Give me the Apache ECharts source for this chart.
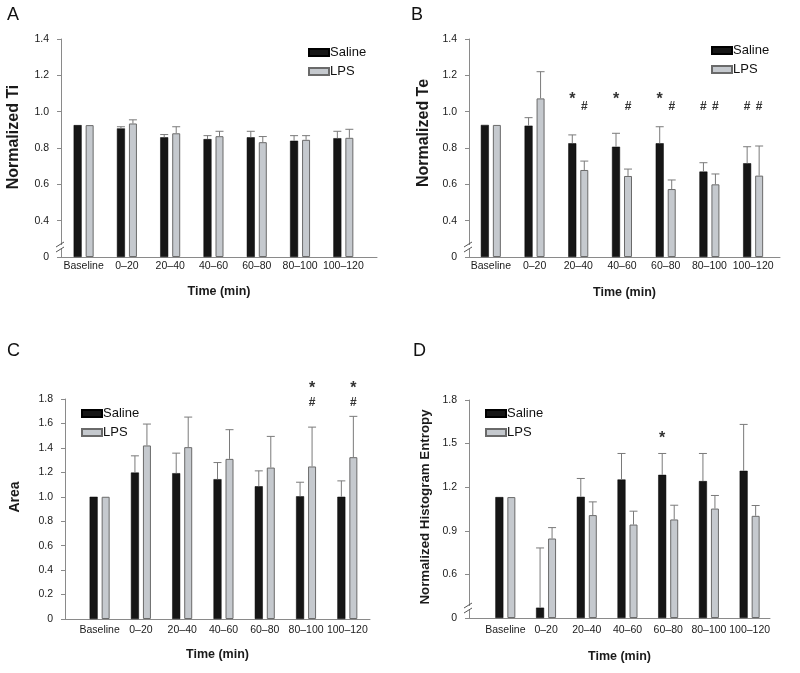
<!DOCTYPE html>
<html>
<head>
<meta charset="utf-8">
<script src="https://cdn.jsdelivr.net/npm/echarts@6/dist/echarts.min.js"></script>
<style>html,body{margin:0;padding:0;background:#fff}#chart{width:800px;height:673px}</style>
</head>
<body>
<div id="chart"></div>
<script>
// ---------------- DATA ----------------
const categories = ['Baseline', '0–20', '20–40', '40–60', '60–80', '80–100', '100–120'];
const seriesNames = ['Saline', 'LPS'];

// Panel A – Normalized Ti (axis broken: bottom tick shown as 0)
const aSaline    = [0.926, 0.908, 0.859, 0.849, 0.859, 0.840, 0.854];
const aSalineErr = [null,  0.917, 0.874, 0.868, 0.892, 0.868, 0.892];
const aLps       = [0.926, 0.935, 0.881, 0.865, 0.832, 0.845, 0.856];
const aLpsErr    = [null,  0.955, 0.917, 0.892, 0.863, 0.868, 0.903];
const aTicks     = ['0', '0.4', '0.6', '0.8', '1.0', '1.2', '1.4'];
const aMarks     = [];

// Panel B – Normalized Te
const bSaline    = [0.927, 0.923, 0.826, 0.807, 0.826, 0.670, 0.716];
const bSalineErr = [null,  0.967, 0.872, 0.881, 0.917, 0.719, 0.807];
const bLps       = [0.927, 1.073, 0.679, 0.646, 0.574, 0.600, 0.648];
const bLpsErr    = [null,  1.220, 0.728, 0.684, 0.624, 0.657, 0.811];
const bTicks     = ['0', '0.4', '0.6', '0.8', '1.0', '1.2', '1.4'];
// [category, value, text, bar (0 = Saline, 1 = LPS)]
const bMarks     = [[2, 1.09, '*', 0], [2, 1.03, '#', 1], [3, 1.09, '*', 0], [3, 1.03, '#', 1],
                    [4, 1.09, '*', 0], [4, 1.03, '#', 1], [5, 1.03, '#', 0], [5, 1.03, '#', 1],
                    [6, 1.03, '#', 0], [6, 1.03, '#', 1]];

// Panel C – Area
const cSaline    = [1.000, 1.198, 1.193, 1.144, 1.086, 1.004, 1.000];
const cSalineErr = [null,  1.335, 1.357, 1.280, 1.212, 1.119, 1.130];
const cLps       = [1.000, 1.420, 1.406, 1.310, 1.239, 1.248, 1.324];
const cLpsErr    = [null,  1.595, 1.652, 1.549, 1.494, 1.570, 1.658];
const cTicks     = ['0', '0.2', '0.4', '0.6', '0.8', '1.0', '1.2', '1.4', '1.6', '1.8'];
const cMarks     = [[5, 1.92, '*', 1], [5, 1.77, '#', 1], [6, 1.92, '*', 1], [6, 1.77, '#', 1]];

// Panel D – Normalized Histogram Entropy (axis broken: bottom tick shown as 0)
const dSaline    = [1.132, 0.371, 1.134, 1.253, 1.285, 1.242, 1.313];
const dSalineErr = [null,  0.782, 1.260, 1.432, 1.432, 1.432, 1.632];
const dLps       = [1.132, 0.847, 1.008, 0.943, 0.978, 1.053, 1.003];
const dLpsErr    = [null,  0.922, 1.099, 1.035, 1.076, 1.143, 1.074];
const dTicks     = ['0', '0.6', '0.9', '1.2', '1.5', '1.8'];
const dMarks     = [[4, 1.56, '*', 0]];

// ---------------- LAYOUT / STYLE ----------------
const FONT = '"Liberation Sans", Arial, Helvetica, sans-serif';
const AXIS_COLOR = '#8a8a8a';
const TEXT_COLOR = '#1a1a1a';
const SALINE_COLOR = '#161616';
const LPS_COLOR = '#c5c9ce';
const LPS_BORDER = '#6a6a6a';
const ERR_COLOR = '#7a7a7a';
const BAR_W = 8;
const BAR_OFFSET = 6; // half of (bar width + gap)

const panels = [
  { letter: 'A', yName: 'Normalized Ti', yNameSize: 16, yNamePos: [14, 137],
    saline: aSaline, salineErr: aSalineErr, lps: aLps, lpsErr: aLpsErr, ticks: aTicks, marks: aMarks,
    min: 0.2, max: 1.4, interval: 0.2, broken: true,
    frame: { left: 61, top: 39, width: 316, height: 218 },
    data: { left: 62, width: 303 }, catMargin: 4, nameGap: 28,
    legend: { left: 303, top: 41 }, letterPos: [7, 14] },
  { letter: 'B', yName: 'Normalized Te', yNameSize: 16, yNamePos: [424, 133],
    saline: bSaline, salineErr: bSalineErr, lps: bLps, lpsErr: bLpsErr, ticks: bTicks, marks: bMarks,
    min: 0.2, max: 1.4, interval: 0.2, broken: true,
    frame: { left: 469, top: 39, width: 311, height: 218 },
    data: { left: 469, width: 306 }, catMargin: 4, nameGap: 29,
    legend: { left: 706, top: 39 }, letterPos: [411, 14] },
  { letter: 'C', yName: 'Area', yNameSize: 14, yNamePos: [15, 497],
    saline: cSaline, salineErr: cSalineErr, lps: cLps, lpsErr: cLpsErr, ticks: cTicks, marks: cMarks,
    min: 0, max: 1.8, interval: 0.2, broken: false,
    frame: { left: 65, top: 399, width: 305, height: 220 },
    data: { left: 79, width: 289 }, catMargin: 6, nameGap: 29,
    legend: { left: 76, top: 402 }, letterPos: [7, 350] },
  { letter: 'D', yName: 'Normalized Histogram Entropy', yNameSize: 13.3, yNamePos: [425, 507],
    saline: dSaline, salineErr: dSalineErr, lps: dLps, lpsErr: dLpsErr, ticks: dTicks, marks: dMarks,
    min: 0.3, max: 1.8, interval: 0.3, broken: true,
    frame: { left: 469, top: 400, width: 301, height: 218 },
    data: { left: 485, width: 285 }, catMargin: 7, nameGap: 32,
    legend: { left: 480, top: 402 }, letterPos: [413, 350] }
];

const grid = [], xAxis = [], yAxis = [], series = [], legend = [], graphic = [];

function errData(vals, tops) {
  const out = [];
  vals.forEach((v, i) => { if (tops[i] != null) out.push([i, v, tops[i]]); });
  return out;
}

function errRender(offset) {
  return function (params, api) {
    const p0 = api.coord([api.value(0), api.value(1)]);
    const p1 = api.coord([api.value(0), api.value(2)]);
    const x = p0[0] + offset;
    const st = { stroke: ERR_COLOR, lineWidth: 1 };
    return { type: 'group', children: [
      { type: 'line', shape: { x1: x, y1: p0[1], x2: x, y2: p1[1] }, style: st },
      { type: 'line', shape: { x1: x - 4, y1: p1[1], x2: x + 4, y2: p1[1] }, style: st }
    ] };
  };
}

panels.forEach((p, k) => {
  const fi = 2 * k, di = 2 * k + 1;
  grid.push({ left: p.frame.left, top: p.frame.top, width: p.frame.width, height: p.frame.height });
  grid.push({ left: p.data.left, top: p.frame.top, width: p.data.width, height: p.frame.height });

  xAxis.push({ gridIndex: fi, type: 'value', min: 0, max: 1,
    axisLine: { show: true, lineStyle: { color: AXIS_COLOR, width: 1 } },
    axisTick: { show: false }, axisLabel: { show: false }, splitLine: { show: false },
    name: 'Time (min)', nameLocation: 'middle', nameGap: p.nameGap,
    nameTextStyle: { fontFamily: FONT, fontSize: 12.5, fontWeight: 'bold', color: TEXT_COLOR } });
  xAxis.push({ gridIndex: di, type: 'category', data: categories,
    axisLine: { show: false }, axisTick: { show: false }, splitLine: { show: false },
    axisLabel: { fontFamily: FONT, fontSize: 10.5, color: TEXT_COLOR, margin: p.catMargin, interval: 0 } });

  const ticks = p.ticks;
  yAxis.push({ gridIndex: fi, type: 'value', min: p.min, max: p.max, interval: p.interval,
    axisLine: { show: true, lineStyle: { color: AXIS_COLOR, width: 1 } },
    axisTick: { show: true, length: 4, lineStyle: { color: AXIS_COLOR } },
    splitLine: { show: false },
    axisLabel: { fontFamily: FONT, fontSize: 10.5, color: TEXT_COLOR, margin: 12,
      formatter: (v, i) => ticks[i] } });
  yAxis.push({ gridIndex: di, type: 'value', min: p.min, max: p.max, interval: p.interval,
    startValue: p.min, show: false, splitLine: { show: false } });

  series.push({ type: 'bar', name: seriesNames[0], xAxisIndex: di, yAxisIndex: di,
    data: p.saline, barWidth: BAR_W, barGap: '50%',
    itemStyle: { color: SALINE_COLOR, borderColor: '#000', borderWidth: 0.5 } });
  series.push({ type: 'bar', name: seriesNames[1], xAxisIndex: di, yAxisIndex: di,
    data: p.lps, barWidth: BAR_W, barGap: '50%',
    itemStyle: { color: LPS_COLOR, borderColor: LPS_BORDER, borderWidth: 1 } });
  series.push({ type: 'custom', name: 'errS' + k, xAxisIndex: di, yAxisIndex: di, z: 3,
    data: errData(p.saline, p.salineErr), renderItem: errRender(-BAR_OFFSET) });
  series.push({ type: 'custom', name: 'errL' + k, xAxisIndex: di, yAxisIndex: di, z: 3,
    data: errData(p.lps, p.lpsErr), renderItem: errRender(BAR_OFFSET) });
  const marks = p.marks;
  series.push({ type: 'custom', name: 'sig' + k, xAxisIndex: di, yAxisIndex: di, z: 4,
    data: marks.map(m => [m[0], m[1]]),
    renderItem: (params, api) => {
      const m = marks[params.dataIndex];
      const c = api.coord([api.value(0), api.value(1)]);
      const isStar = m[2] === '*';
      return { type: 'text', x: c[0] + (m[3] ? BAR_OFFSET : -BAR_OFFSET), y: c[1] + (isStar ? 4 : 0),
        style: { text: m[2], fontFamily: FONT, fontSize: isStar ? 16 : 12, fontWeight: 'bold',
          fill: '#333', align: 'center', verticalAlign: 'middle' } };
    } });

  legend.push({ data: seriesNames, orient: 'vertical', left: p.legend.left, top: p.legend.top,
    itemWidth: 20, itemHeight: 7, itemGap: 6, icon: 'rect', selectedMode: false,
    textStyle: { fontFamily: FONT, fontSize: 13, color: '#111', padding: [0, 0, 0, -4] } });

  graphic.push({ type: 'text', left: p.letterPos[0], top: p.letterPos[1] - 8,
    style: { text: p.letter, fontFamily: FONT, fontSize: 18, fill: '#111' } });
  graphic.push({ type: 'text', x: p.yNamePos[0], y: p.yNamePos[1], rotation: Math.PI / 2,
    style: { text: p.yName, fontFamily: FONT, fontSize: p.yNameSize, fontWeight: 'bold', fill: TEXT_COLOR,
      align: 'center', verticalAlign: 'middle' } });
  if (p.broken) {
    const ax = p.frame.left, by = p.frame.top + p.frame.height - 10;
    graphic.push({ type: 'rect', shape: { x: ax - 1, y: by - 2, width: 3, height: 4 },
      style: { fill: '#fff' }, z: 10 });
    graphic.push({ type: 'line', shape: { x1: ax - 5, y1: by, x2: ax + 3, y2: by - 5 },
      style: { stroke: '#555', lineWidth: 1 }, z: 11 });
    graphic.push({ type: 'line', shape: { x1: ax - 5, y1: by + 5, x2: ax + 3, y2: by },
      style: { stroke: '#555', lineWidth: 1 }, z: 11 });
  }
});

const chart = echarts.init(document.getElementById('chart'), null, { renderer: 'canvas' });
chart.setOption({
  animation: false,
  backgroundColor: '#fff',
  textStyle: { fontFamily: FONT },
  grid, xAxis, yAxis, series, legend, graphic,
  tooltip: { show: false }
});
</script>
</body>
</html>
